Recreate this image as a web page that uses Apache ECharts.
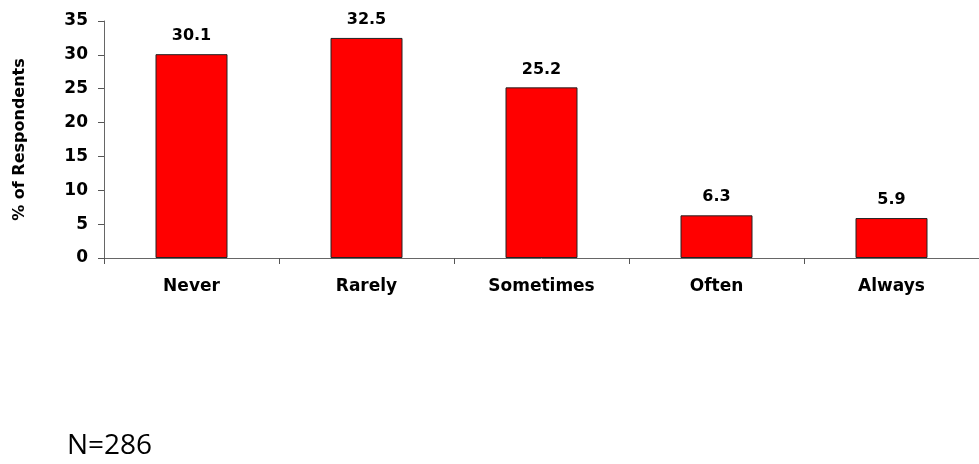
<!DOCTYPE html>
<html>
<head>
<meta charset="utf-8">
<script src="https://cdn.jsdelivr.net/npm/echarts@6/dist/echarts.min.js"></script>
<style>
  html, body { margin: 0; padding: 0; background: #fff; }
  #chart { width: 979px; height: 464px; }
</style>
</head>
<body>
<div id="chart"></div>
<script>
var categories = ['Never', 'Rarely', 'Sometimes', 'Often', 'Always'];
var percents = [30.1, 32.5, 25.2, 6.3, 5.9];
var sampleNote = 'N=286';

var chart = echarts.init(document.getElementById('chart'));

var boldFont = 'DejaVu Sans';

var option = {
    animation: false,
    grid: {
        left: 104,
        top: 21,
        width: 884,
        height: 237,
        containLabel: false
    },
    xAxis: {
        type: 'category',
        data: categories,
        axisLine: { lineStyle: { color: '#666', width: 1 } },
        axisTick: { show: true, length: 6, lineStyle: { color: '#555' } },
        axisLabel: {
            color: '#000',
            fontFamily: boldFont,
            fontWeight: 'bold',
            fontSize: 17,
            margin: 20
        }
    },
    yAxis: {
        type: 'value',
        min: 0,
        max: 35,
        interval: 5,
        name: '% of Respondents',
        nameLocation: 'middle',
        nameGap: 76,
        nameTextStyle: {
            color: '#000',
            fontFamily: boldFont,
            fontWeight: 'bold',
            fontSize: 16
        },
        splitLine: { show: false },
        axisLine: { show: true, lineStyle: { color: '#666', width: 1 } },
        axisTick: { show: true, length: 6, lineStyle: { color: '#555' } },
        axisLabel: {
            color: '#000',
            fontFamily: boldFont,
            fontWeight: 'bold',
            fontSize: 17,
            margin: 16
        }
    },
    series: [{
        type: 'bar',
        data: percents,
        barWidth: 72,
        itemStyle: {
            color: '#ff0000',
            borderColor: '#222',
            borderWidth: 1
        },
        label: {
            show: true,
            position: 'top',
            distance: 10,
            color: '#000',
            fontFamily: boldFont,
            fontWeight: 'bold',
            fontSize: 16
        }
    }],
    graphic: [{
        type: 'text',
        left: 67,
        top: 432,
        style: {
            text: sampleNote,
            fill: '#000',
            font: '28px "Open Sans"'
        }
    }]
};

chart.setOption(option);
</script>
</body>
</html>
